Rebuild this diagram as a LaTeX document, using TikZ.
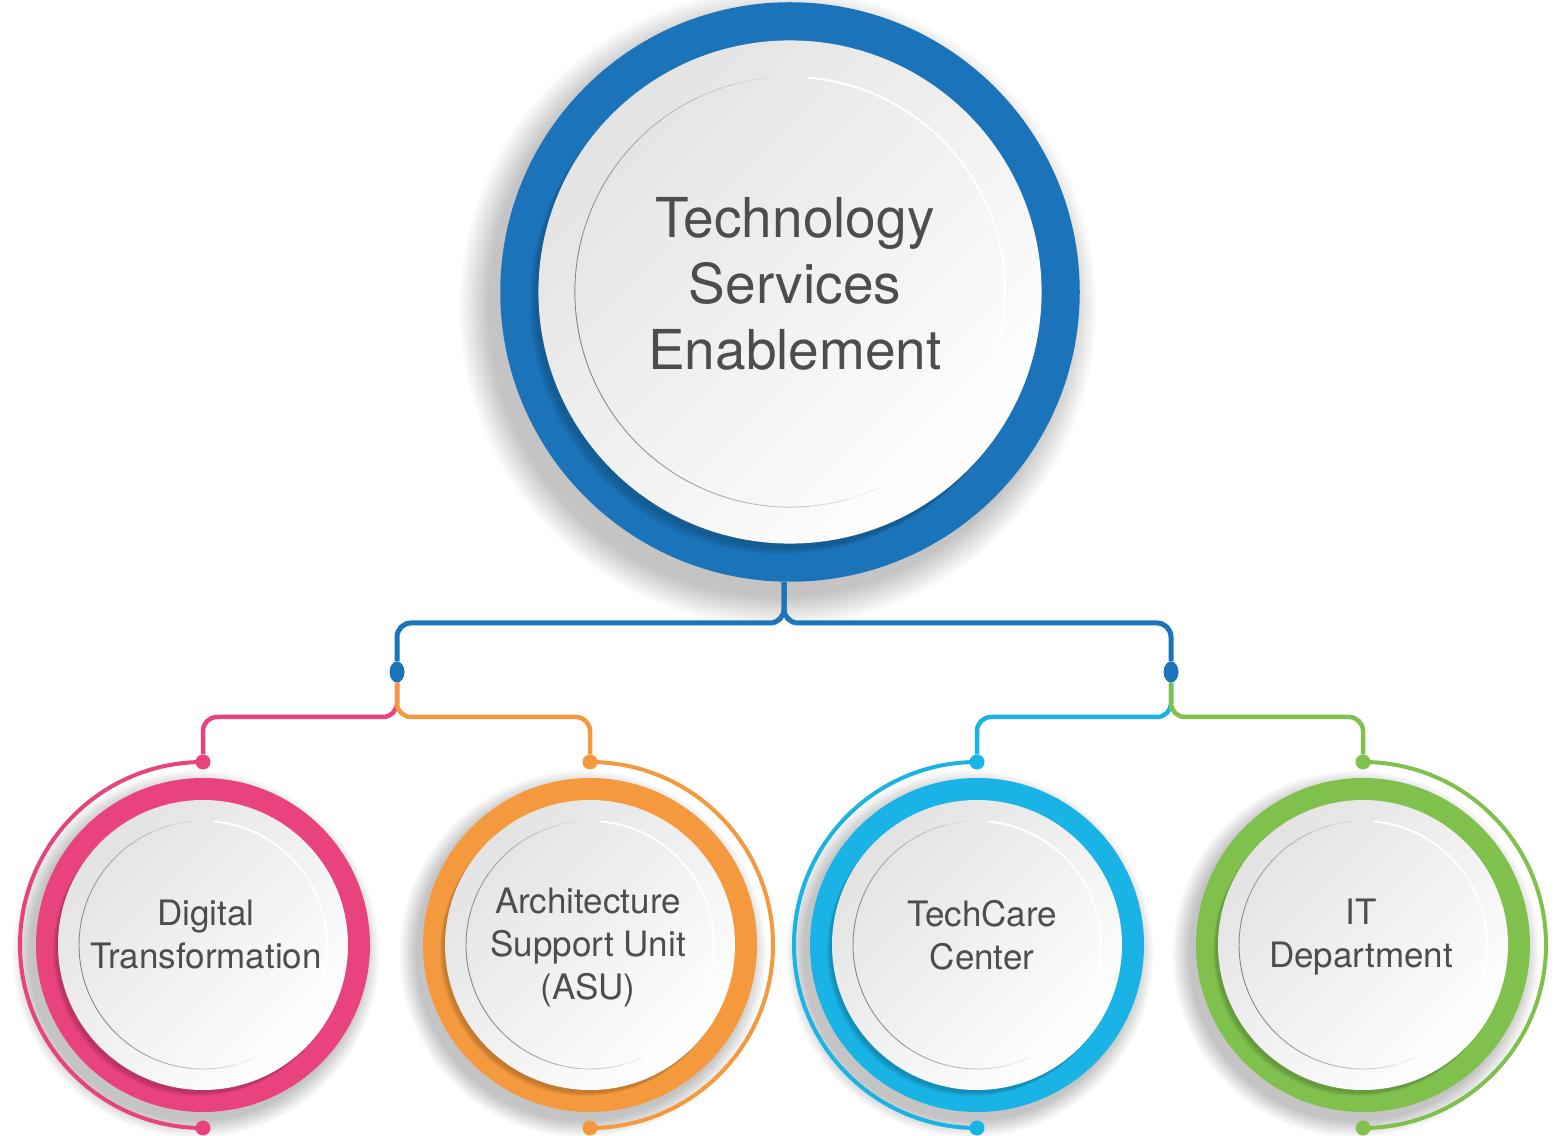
\documentclass[tikz,border=0pt]{standalone}
\usepackage{fontspec}
\setmainfont{TeX Gyre Heros}
\usetikzlibrary{positioning,shapes.geometric}

\definecolor{tsblue}{HTML}{1B73B9}
\definecolor{dtpink}{HTML}{E8427F}
\definecolor{asuorange}{HTML}{F4993D}
\definecolor{tccyan}{HTML}{1AB3E6}
\definecolor{itgreen}{HTML}{80C14D}
\definecolor{labelgrey}{HTML}{4D4D4D}

\tikzset{
  disc/.style={top color=black!11, bottom color=white, shading angle=45},
  link/.style={line width=#1, rounded corners=14pt},
  hub/.style={ellipse, fill=tsblue, minimum width=15pt, minimum height=21pt, inner sep=0pt},
  knob/.style={circle, fill=#1, minimum size=15pt, inner sep=0pt},
  headtext/.style={text=labelgrey, align=center, font=\fontsize{55}{66}\selectfont},
  unittext/.style={text=labelgrey, align=center, font=\fontsize{35}{43}\selectfont},
}

\begin{document}
\begin{tikzpicture}[x=1pt, y=1pt]
  \fill[white] (0,0) rectangle (1560,1135);
  \useasboundingbox (0,0) rectangle (1560,1135);

  \newcommand\R{167}  %% outer radius of a small dial
  \newcommand\dial[4]{%% x, y, scale, colour
    \begin{scope}[shift={(#1,#2)}, scale=#3]
      \foreach \s in {0,...,11}
        \fill[black, opacity=0.018] (-7,-9) circle (\R+1.5*\s);
      \fill[#4] (0,0) circle (\R);
      \foreach \s in {0,...,3}
        \fill[black, opacity=0.05] (-2-\s,-3-\s) circle (145);
      \shade[disc] (0,0) circle (145);
      \foreach \a [evaluate=\a as \op using {0.85*sin((\a-85)*6/7)}] in {95,105,...,285}
        \draw[black!55, line width=0.9pt, opacity=\op] (\a:124) arc[start angle=\a, delta angle=10, radius=124];
      \draw[white, line width=2pt] (-60:124) arc[start angle=-60, end angle=85, radius=124];
    \end{scope}
  }

  \dial{790}{843}{1.735}{tsblue}
  \dial{203}{190}{1}{dtpink}
  \dial{590}{190}{1}{asuorange}
  \dial{977}{190}{1}{tccyan}
  \dial{1363}{190}{1}{itgreen}

  %% outer arcs and their end knobs
  \foreach \n/\x/\c/\d in {dt/203/dtpink/180, asu/590/asuorange/-180,
                           tcc/977/tccyan/180, itd/1363/itgreen/-180}{
    \draw[\c, line width=4pt] (\x,373) arc[start angle=90, delta angle=\d, radius=183];
    \node[knob=\c] (\n-top) at (\x,373) {};
    \node[knob=\c] (\n-bot) at (\x,7) {};
  }

  \node[circle, minimum size=580pt] (tse) at (784,843) {};
  \node[headtext] (tsetext) at ([xshift=11pt, yshift=8pt]tse.center) {Technology\\Services\\Enablement};

  \node[unittext] (dt) at (206,200) {Digital\\Transformation};
  \node[unittext] (asu) at (588,188) {Architecture\\Support Unit\\(ASU)};
  \node[unittext] (tcc) at (982,200) {TechCare\\Center};
  \node[unittext] (itd) at (1361,198) {IT\\Department};

  \coordinate (bar) at (0,512);
  \coordinate (fork) at (0,418);
  \node[hub] (hubl) at (397,463) {};
  \node[hub] (hubr) at (1171,463) {};

  \draw[link=5pt, tsblue] (tse.south) |- (hubl |- bar) -- (hubl.north);
  \draw[link=5pt, tsblue] (tse.south) |- (hubr |- bar) -- (hubr.north);

  \draw[link=4.5pt, dtpink] (hubl.south) |- (dt-top |- fork) -- (dt-top.north);
  \draw[link=4.5pt, asuorange] (hubl.south) |- (asu-top |- fork) -- (asu-top.north);
  \draw[link=4.5pt, tccyan] (hubr.south) |- (tcc-top |- fork) -- (tcc-top.north);
  \draw[link=4.5pt, itgreen] (hubr.south) |- (itd-top |- fork) -- (itd-top.north);

\end{tikzpicture}
\end{document}
